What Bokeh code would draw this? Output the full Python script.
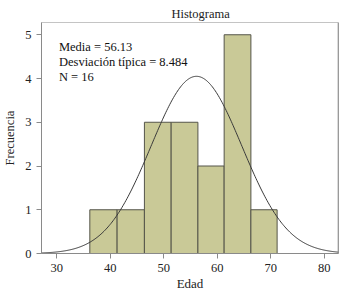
import numpy as np
from bokeh.plotting import figure
from bokeh.models import Label, Range1d, FixedTicker, Span
from bokeh.embed import file_html
from bokeh.resources import INLINE

# Data
bin_edges = [36.2, 41.3, 46.4, 51.4, 56.4, 61.3, 66.3, 71.2]
counts = [1, 1, 3, 3, 2, 5, 1]
mean = 56.13
sd = 8.484
n = 16
curve_peak = 4.05
x_ticks = [30, 40, 50, 60, 70, 80]
y_ticks = [0, 1, 2, 3, 4, 5]
stats_lines = ["Media = 56.13", "Desviación típica = 8.484", "N = 16"]

FONT = "Liberation Serif"
BAR_FILL = "#c9c997"
X_START, X_END = 27.17, 82.67

p = figure(width=340, height=295, output_backend="svg", toolbar_location=None,
           x_range=Range1d(X_START, X_END), y_range=Range1d(0, 5.28),
           min_border_left=40, min_border_right=2, min_border_top=22, min_border_bottom=42,
           title="Histograma")
p.title.align = "left"
p.title.offset = 130
p.title.standoff = 4
p.title.text_font = FONT
p.title.text_font_size = "12.5px"
p.title.text_font_style = "normal"
p.title.text_color = "#222222"

p.background_fill_color = "white"
p.border_fill_color = "white"
p.outline_line_color = "#c4c4c4"
p.grid.visible = False

p.quad(left=bin_edges[:-1], right=bin_edges[1:], bottom=0, top=counts,
       fill_color=BAR_FILL, line_color="#55554a", line_width=1)

xs = np.linspace(X_START, X_END, 300)
ys = curve_peak * np.exp(-0.5 * ((xs - mean) / sd) ** 2)
p.line(xs, ys, line_color="#3a3a3a", line_width=1)

p.add_layout(Span(location=X_END, dimension="height", line_color="#707070", line_width=1.5))

for ax in (p.xaxis[0], p.yaxis[0]):
    ax.axis_line_color = "#8a8a8a"
    ax.major_tick_line_color = "#8a8a8a"
    ax.major_tick_out = 5
    ax.major_tick_in = 0
    ax.minor_tick_line_color = None
    ax.major_label_text_font = FONT
    ax.major_label_text_font_size = "12.5px"
    ax.major_label_text_color = "#222222"
    ax.major_label_standoff = 5
    ax.axis_label_text_font = FONT
    ax.axis_label_text_font_size = "12.5px"
    ax.axis_label_text_font_style = "normal"
    ax.axis_label_text_color = "#222222"

p.xaxis.ticker = FixedTicker(ticks=x_ticks)
p.yaxis.ticker = FixedTicker(ticks=y_ticks)
p.xaxis.axis_label = "Edad"
p.xaxis.axis_label_text_font_size = "13px"
p.xaxis.axis_label_standoff = 1
p.yaxis.axis_label = "Frecuencia"
p.yaxis.axis_label_standoff = 5

# Stats text
for txt, yy in zip(stats_lines, [4.72, 4.377, 4.034]):
    p.add_layout(Label(x=30.43, y=yy, text=txt, text_align="left",
                       text_baseline="alphabetic", text_font=FONT,
                       text_font_size="12.5px", text_color="#111111"))

open("out.html", "w").write(file_html(p, INLINE))
